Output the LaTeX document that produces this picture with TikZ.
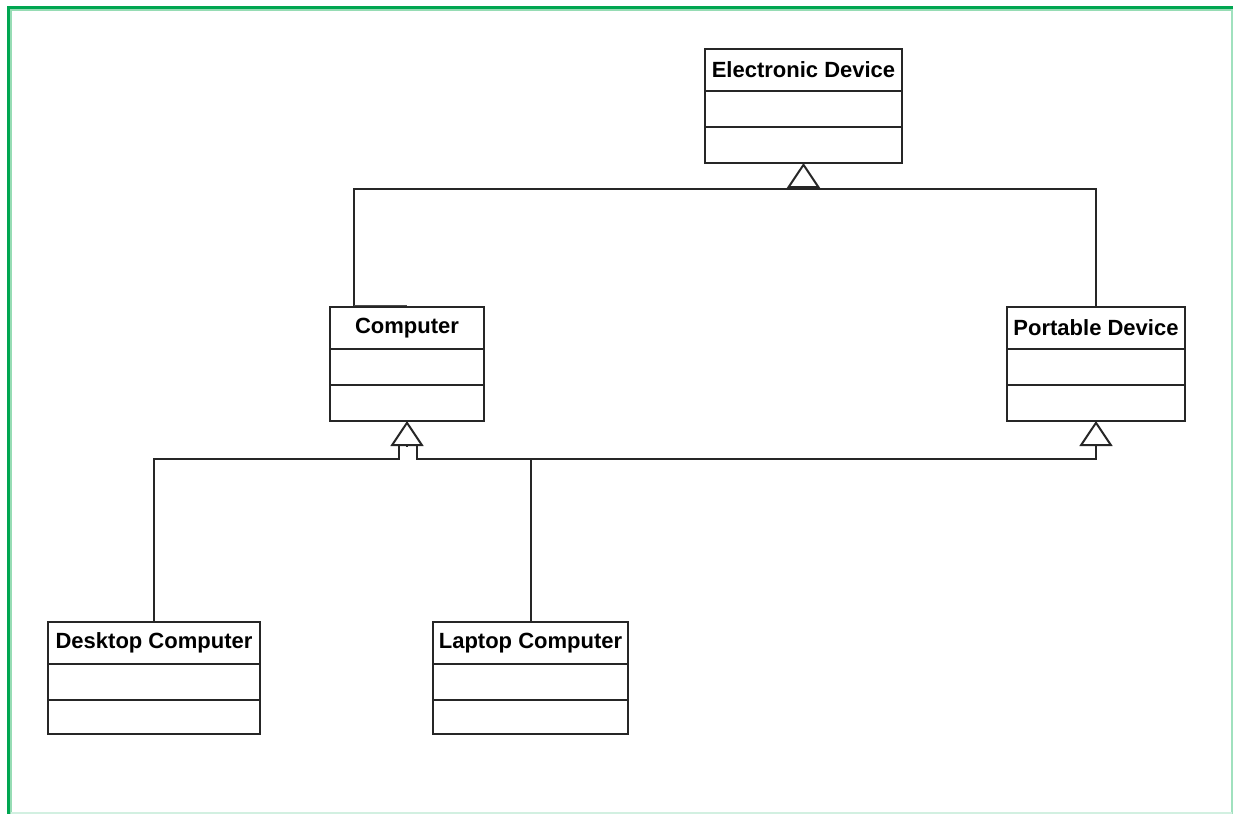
\documentclass[tikz,border=0pt]{standalone}
\usepackage{fontspec}
\setmainfont{Liberation Sans}
\usetikzlibrary{arrows.meta}

\begin{document}
\begin{tikzpicture}[x=0.5pt, y=-0.5pt,
	line/.style = {line width=1pt, draw=black!85},
	classbox/.style = {line, rectangle, minimum height=57pt, outer sep=0pt, inner sep=0pt},
	classname/.style = {font=\fontsize{11}{13}\selectfont\bfseries, inner sep=0pt},
	inherit/.style = {line, -{Triangle[open, length=12.5pt, width=16.5pt]}}]
	\useasboundingbox[fill=white] (0,0) rectangle (1233,814);
	% frame
	\draw[line width=1.5pt, draw={rgb,255:red,0;green,166;blue,81}] (8.5,814) -- (8.5,7.5) -- (1233,7.5);
	\draw[line width=1pt, draw={rgb,255:red,150;green,220;blue,180}] (11,814) -- (11,10) -- (1233,10);
	\draw[line width=1pt, draw={rgb,255:red,160;green,225;blue,190}] (1232,9) -- (1232,814);
	\draw[line width=1pt, draw={rgb,255:red,210;green,240;blue,225}] (11,813) -- (1232,813);
	% classes
	\node[classbox, minimum width=98.5pt, anchor=north] (elec) at (803.5,49) {};
	\node[classbox, minimum width=77pt, anchor=north] (comp) at (407,307) {};
	\node[classbox, minimum width=89pt, anchor=north] (port) at (1096,307) {};
	\node[classbox, minimum width=106pt, minimum height=56pt, anchor=north] (desk) at (154,622) {};
	\node[classbox, minimum width=97.5pt, minimum height=56pt, anchor=north] (lap) at (530.5,622) {};
	\foreach \c in {elec,comp,port,desk,lap} {
		\draw[line] ([yshift=-21pt]\c.north west) -- ([yshift=-21pt]\c.north east);
		\draw[line] ([yshift=-39pt]\c.north west) -- ([yshift=-39pt]\c.north east);
	}
	\node[classname] (elec-name) at ([yshift=-10.5pt]elec.north) {Electronic Device};
	\node[classname] (comp-name) at ([yshift=-10.5pt]comp.north) {Computer};
	\node[classname] (port-name) at ([yshift=-10.5pt]port.north) {Portable Device};
	\node[classname] (desk-name) at ([yshift=-10.5pt]desk.north) {Desktop Computer};
	\node[classname] (lap-name) at ([yshift=-10.5pt]lap.north) {Laptop Computer};
	% generalizations
	\coordinate (etri) at ([yshift=-13pt]elec.south);
	\coordinate (ctri) at ([yshift=-12.5pt]comp.south);
	\coordinate (cjoin) at ([yshift=-19pt]comp.south);
	\coordinate (ptri) at ([yshift=-12.5pt]port.south);
	\draw[inherit] (etri) -- (elec.south);
	\draw[line] ([xshift=-26.5pt]comp.north) |- (etri) -| (port.north);
	\draw[line width=0.6pt, draw=black!70] ([xshift=-26.5pt, yshift=0.6pt]comp.north) -- ([yshift=0.6pt]comp.north);
	\draw[inherit] (ctri) -- (comp.south);
	\draw[inherit] (ptri) -- (port.south);
	\draw[line] (desk.north) |- ([xshift=-4pt]cjoin) -- ([xshift=-4pt]ctri);
	\draw[line] ([xshift=5pt]ctri) -- ([xshift=5pt]cjoin) -| (ptri);
	\draw[line] (lap.north) -- (lap.north |- cjoin);
\end{tikzpicture}
\end{document}
